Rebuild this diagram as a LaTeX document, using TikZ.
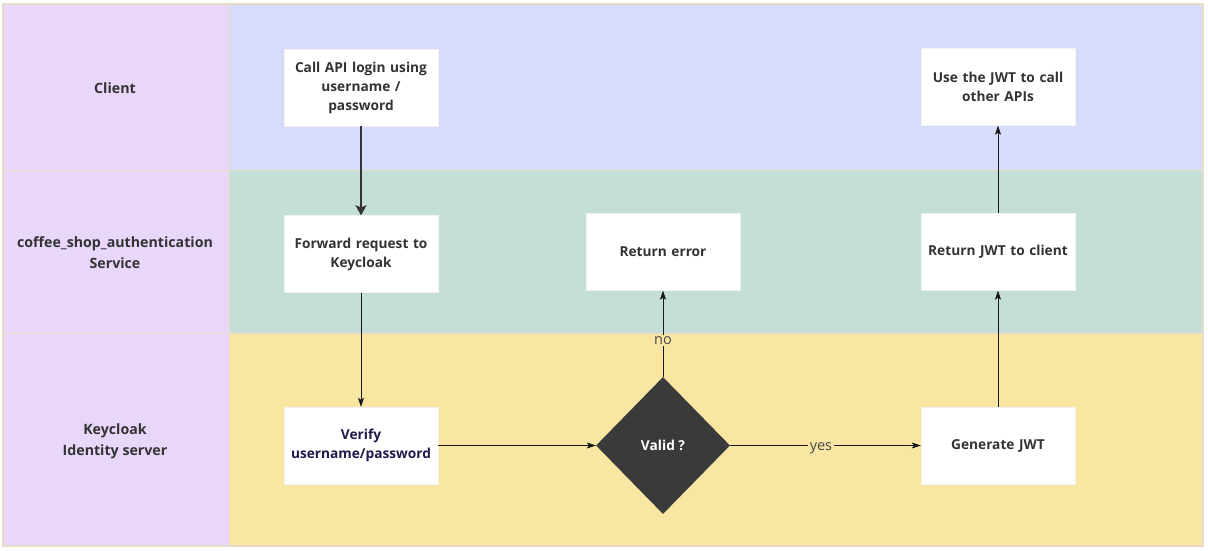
\documentclass[tikz,border=0pt]{standalone}
\usepackage{fontspec}
\setmainfont{Open Sans}
\usetikzlibrary{shapes.geometric,arrows.meta}
\definecolor{labelbg}{HTML}{E9D6FB}
\definecolor{clientbg}{HTML}{D6DCFA}
\definecolor{servicebg}{HTML}{C4DFD7}
\definecolor{keybg}{HTML}{F9E6A3}
\definecolor{laneline}{HTML}{E8DCC6}
\definecolor{txt}{HTML}{333333}
\definecolor{navy}{HTML}{1E1B4B}
\definecolor{dia}{HTML}{3A3A3A}
\tikzset{
  lanelabel/.style={text=txt, font=\bfseries\fontsize{14.2}{21}\selectfont, align=center},
  procbox/.style={fill=white, draw=white!95!black, line width=0.4pt, minimum width=154pt, minimum height=77pt, inner sep=2pt, text width=150pt, align=center, text=txt, font=\bfseries\fontsize{13.7}{19}\selectfont},
  decision/.style={diamond, fill=dia, minimum width=134pt, minimum height=137pt, inner sep=0pt, text=white, font=\bfseries\fontsize{13.7}{16}\selectfont},
  thinarrow/.style={draw=black!90, line width=0.8pt, -{Stealth[length=9pt,width=6pt,inset=2pt]}},
  thickarrow/.style={draw=txt, line width=1.6pt, -{Stealth[length=10pt,width=11pt,inset=2pt]}},
  edgelabel/.style={fill=keybg, text=txt!90, inner sep=1.5pt, font=\fontsize{14.5}{16}\selectfont},
}
\begin{document}
\begin{tikzpicture}[x=1pt,y=-1pt]
\useasboundingbox (0,0) rectangle (1208,550);
\fill[white] (0,0) rectangle (1208,550);
% lanes
\fill[labelbg] (3,4) rectangle (229,546);
\fill[clientbg] (229,4) rectangle (1203,170);
\fill[servicebg] (229,170) rectangle (1203,333);
\fill[keybg] (229,333) rectangle (1203,546);
\draw[laneline, line width=1.2pt] (3,4) rectangle (1203,546);
\draw[laneline, line width=1pt] (229,4) -- (229,546);
\draw[laneline, line width=1pt] (3,170) -- (1203,170);
\draw[laneline, line width=1pt] (3,333) -- (1203,333);
% lane labels
\node[lanelabel] (lclient) at (115,88) {Client};
\node[lanelabel] (lservice) at (115,253) {coffee\_shop\_authentication\\Service};
\node[lanelabel] (lkey) at (115,441) {Keycloak\\Identity server};
% boxes
\node[procbox] (call) at (361,87.5) {Call API login using\\username /\\password};
\node[procbox] (fwd) at (361,254) {Forward request to\\Keycloak};
\node[procbox, text=navy] (verify) at (361,445.5) {Verify\\username/password};
\node[procbox] (err) at (663,252) {Return error};
\node[procbox] (use) at (998,87) {Use the JWT to call\\other APIs};
\node[procbox] (ret) at (998,252) {Return JWT to client};
\node[procbox] (gen) at (998,445.5) {Generate JWT};
\node[decision] (valid) at (663,445.5) {Valid ?};
% connectors
\draw[thickarrow] (call) -- (fwd);
\draw[thinarrow] (fwd) -- (verify);
\draw[thinarrow] (verify) -- (valid);
\draw[thinarrow] (valid) -- node[edgelabel, pos=0.42] (nolbl) {no} (err);
\draw[thinarrow] (valid) -- node[edgelabel, pos=0.476, yshift=-2.5pt] (yeslbl) {yes} (gen);
\draw[thinarrow] (gen) -- (ret);
\draw[thinarrow] (ret) -- (use);
\end{tikzpicture}
\end{document}
